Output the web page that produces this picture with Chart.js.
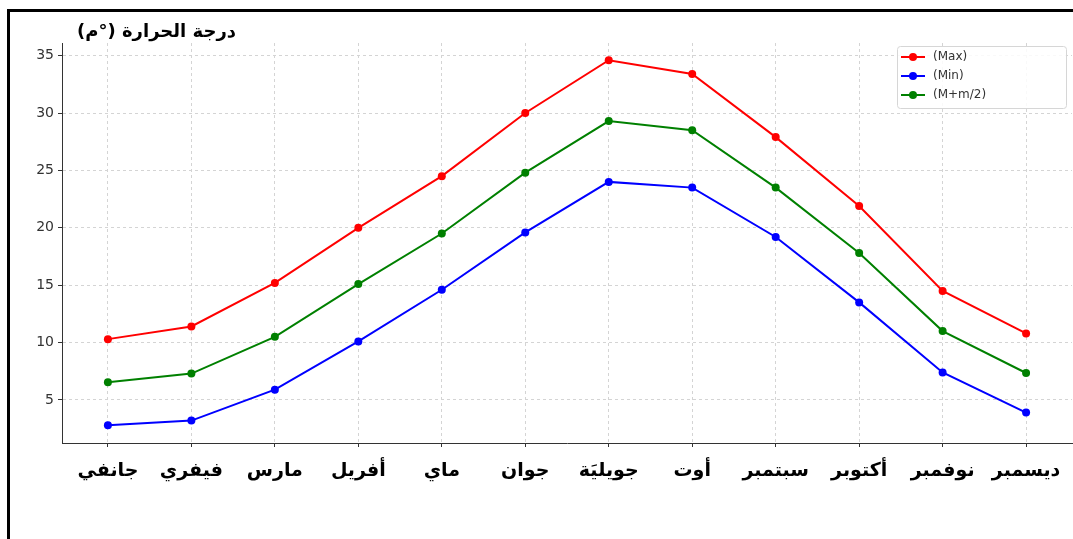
<!DOCTYPE html>
<html>
<head>
<meta charset="utf-8">
<script src="https://cdn.jsdelivr.net/npm/chart.js@4"></script>
<style>
    html, body { margin: 0; padding: 0; background: #fff; overflow: hidden; }
    #wrap { position: relative; width: 1073px; height: 539px; overflow: hidden; }
    #frame {
        position: absolute; left: 7px; top: 9px; right: -5px; bottom: -5px;
        border-top: 3px solid #000; border-left: 3px solid #000;
    }
    #title {
        position: absolute; right: 837px; top: 20px;
        direction: rtl; white-space: nowrap;
        font: bold 18px "DejaVu Sans", sans-serif; color: #000;
    }
    canvas { position: absolute; left: 0; top: 0; }
</style>
</head>
<body>
<div id="wrap">
    <canvas id="tempChart" width="1076" height="539"></canvas>
    <div id="frame"></div>
    <div id="title">درجة الحرارة (°م)</div>
</div>
<script>
// monthly temperatures (°C)
const months = ["جانفي", "فيفري", "مارس", "أفريل", "ماي", "جوان", "جويليَة", "أوت", "سبتمبر", "أكتوبر", "نوفمبر", "ديسمبر"];
const maxTemp = [10.3, 11.4, 15.2, 20.0, 24.5, 30.0, 34.6, 33.4, 27.9, 21.9, 14.5, 10.8];
const minTemp = [2.8, 3.2, 5.9, 10.1, 14.6, 19.6, 24.0, 23.5, 19.2, 13.5, 7.4, 3.9];
const avgTemp = [6.55, 7.3, 10.5, 15.1, 19.5, 24.8, 29.3, 28.5, 23.5, 17.8, 11.0, 7.35];
const yTicks = [5, 10, 15, 20, 25, 30, 35];
const seriesNames = ["(Max)", "(Min)", "(M+m/2)"];

function toPoints(values) {
    return values.map((v, i) => ({ x: i, y: v }));
}

function line(label, values, color) {
    return {
        label: label,
        data: toPoints(values),
        borderColor: color,
        backgroundColor: color,
        borderWidth: 2,
        pointRadius: 4,
        pointHoverRadius: 4,
        pointBorderWidth: 0,
        tension: 0,
    };
}

// matplotlib-like legend box: line + marker
const legendBox = {
    id: "legendBox",
    afterDraw(chart) {
        const ctx = chart.ctx;
        const x = 897, y = 46, w = 169, h = 62;
        ctx.save();
        ctx.fillStyle = "rgba(255,255,255,0.85)";
        ctx.strokeStyle = "#d6d6d6";
        ctx.lineWidth = 1;
        ctx.beginPath();
        ctx.roundRect(x + 0.5, y + 0.5, w, h, 3);
        ctx.fill();
        ctx.stroke();
        ctx.font = '12px "DejaVu Sans", sans-serif';
        ctx.textBaseline = "middle";
        chart.data.datasets.forEach((ds, i) => {
            const cy = y + 11 + i * 19;
            ctx.strokeStyle = ds.borderColor;
            ctx.lineWidth = 2;
            ctx.beginPath();
            ctx.moveTo(x + 4, cy);
            ctx.lineTo(x + 28, cy);
            ctx.stroke();
            ctx.fillStyle = ds.borderColor;
            ctx.beginPath();
            ctx.arc(x + 16, cy, 4, 0, Math.PI * 2);
            ctx.fill();
            ctx.fillStyle = "#333";
            ctx.fillText(ds.label, x + 36, cy);
        });
        ctx.restore();
    },
};

new Chart(document.getElementById("tempChart").getContext("2d"), {
    type: "line",
    data: {
        datasets: [
            line(seriesNames[0], maxTemp, "#ff0000"),
            line(seriesNames[1], minTemp, "#0000ff"),
            line(seriesNames[2], avgTemp, "#008000"),
        ],
    },
    options: {
        responsive: false,
        animation: false,
        layout: { padding: { top: 43, right: 1, left: 0, bottom: 0 } },
        scales: {
            x: {
                type: "linear",
                min: -0.55,
                max: 11.55,
                afterBuildTicks: (scale) => {
                    scale.ticks = months.map((m, i) => ({ value: i }));
                },
                afterFit: (scale) => {
                    scale.height = 96;
                    scale.paddingLeft = 0;
                    scale.paddingRight = 0;
                },
                ticks: {
                    autoSkip: false,
                    maxRotation: 0,
                    padding: 13,
                    color: "#000",
                    font: { family: '"DejaVu Sans", sans-serif', size: 19, weight: "bold" },
                    callback: (v) => months[v],
                },
                grid: {
                    color: "#d4d4d4",
                    tickColor: "#333",
                    tickLength: 4,
                    tickBorderDash: [],
                },
                border: { display: true, color: "#333", width: 1, dash: [3, 3] },
            },
            y: {
                min: 1.25,
                max: 36.1,
                afterBuildTicks: (scale) => {
                    scale.ticks = yTicks.map((v) => ({ value: v }));
                },
                afterFit: (scale) => {
                    scale.width = 62;
                },
                ticks: {
                    padding: 4,
                    color: "#333",
                    font: { family: '"DejaVu Sans", sans-serif', size: 14 },
                },
                grid: {
                    color: "#d4d4d4",
                    tickColor: "#333",
                    tickLength: 4,
                    tickBorderDash: [],
                },
                border: { display: true, color: "#333", width: 1, dash: [3, 3] },
            },
        },
        plugins: {
            legend: { display: false },
            tooltip: { enabled: false },
        },
    },
    plugins: [legendBox],
});
</script>
</body>
</html>
